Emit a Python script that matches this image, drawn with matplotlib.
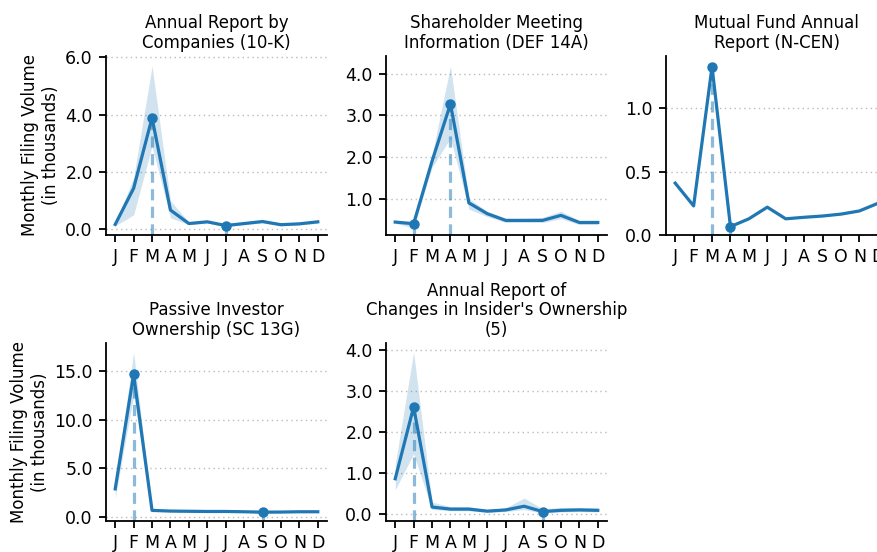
import numpy as np
import matplotlib
matplotlib.use("Agg")
import matplotlib.pyplot as plt
from matplotlib.ticker import FormatStrFormatter

# month labels
months = ["J", "F", "M", "A", "M", "J", "J", "A", "S", "O", "N", "D"]

titles = ["Annual Report by\nCompanies (10-K)",
          "Shareholder Meeting\nInformation (DEF 14A)",
          "Mutual Fund Annual\nReport (N-CEN)",
          "Passive Investor\nOwnership (SC 13G)",
          "Annual Report of\nChanges in Insider's Ownership\n(5)"]

# mean monthly volume (thousands) and band bounds
tenk_mean = [0.17, 1.43, 3.89, 0.67, 0.20, 0.26, 0.13, 0.20, 0.27, 0.16, 0.19, 0.26]
tenk_lo = [0.12, 0.50, 2.90, 0.40, 0.16, 0.22, 0.09, 0.16, 0.22, 0.12, 0.15, 0.21]
tenk_hi = [0.22, 1.80, 5.70, 1.00, 0.25, 0.30, 0.17, 0.25, 0.33, 0.20, 0.23, 0.31]

def14a_mean = [0.44, 0.40, 1.90, 3.27, 0.90, 0.64, 0.48, 0.48, 0.48, 0.60, 0.43, 0.43]
def14a_lo = [0.41, 0.30, 1.75, 2.45, 0.75, 0.57, 0.43, 0.43, 0.43, 0.52, 0.38, 0.38]
def14a_hi = [0.47, 0.45, 2.05, 4.18, 1.00, 0.70, 0.53, 0.53, 0.55, 0.70, 0.48, 0.48]

ncen_mean = [0.41, 0.23, 1.33, 0.066, 0.128, 0.22, 0.128, 0.14, 0.15, 0.165, 0.19, 0.25]

sc13g_mean = [2.90, 14.67, 0.69, 0.62, 0.60, 0.58, 0.58, 0.55, 0.51, 0.52, 0.55, 0.55]
sc13g_lo = [2.00, 12.50, 0.62, 0.56, 0.54, 0.52, 0.52, 0.49, 0.40, 0.46, 0.49, 0.49]
sc13g_hi = [3.30, 16.95, 0.76, 0.68, 0.66, 0.64, 0.64, 0.61, 0.60, 0.58, 0.61, 0.61]

form5_mean = [0.85, 2.60, 0.16, 0.11, 0.11, 0.06, 0.09, 0.18, 0.05, 0.08, 0.09, 0.08]
form5_lo = [0.58, 1.46, 0.10, 0.07, 0.07, 0.03, 0.05, 0.10, 0.01, 0.04, 0.05, 0.04]
form5_hi = [1.20, 3.94, 0.28, 0.17, 0.17, 0.10, 0.14, 0.38, 0.12, 0.15, 0.15, 0.14]

series = [(tenk_mean, tenk_lo, tenk_hi),
          (def14a_mean, def14a_lo, def14a_hi),
          (ncen_mean, None, None),
          (sc13g_mean, sc13g_lo, sc13g_hi),
          (form5_mean, form5_lo, form5_hi)]

ylims = [(-0.2, 6.05), (0.13, 4.42), (0.0, 1.415), (-0.4, 17.9), (-0.18, 4.16)]

W, H = 877, 552
fig = plt.figure(figsize=(W / 100, H / 100), dpi=100)

col_left = [106, 386, 666]
row_top = [56, 343]
row_bot = [235, 521]
ax_w = 221

color = "#1f77b4"

for i, (mean, lo, hi) in enumerate(series):
    r, c = divmod(i, 3)
    ax = fig.add_axes([col_left[c] / W, 1 - row_bot[r] / H,
                       ax_w / W, (row_bot[r] - row_top[r]) / H])
    x = np.arange(12)
    y = np.array(mean)
    ax.plot(x, y, color=color, lw=2.3, zorder=3)
    if lo is not None:
        ax.fill_between(x, lo, hi, color=color, alpha=0.2, lw=0, zorder=2)
    ax.set_xlim(-0.5, 11.5)
    ymin, ymax = ylims[i]
    # dashed drop lines under the peak and the low point
    imax, imin = int(np.argmax(y)), int(np.argmin(y))
    for k in (imax, imin):
        ax.vlines(x[k], ymin, y[k], color=color, alpha=0.5, lw=2.3,
                  linestyles=(0, (3.5, 2)), zorder=2.5)
    ax.plot(x[[imax, imin]], y[[imax, imin]], "o", color=color, ms=6.5, zorder=4)
    ax.set_ylim(ymin, ymax)

    ax.set_xticks(x)
    ax.set_xticklabels(months)
    ax.yaxis.set_major_formatter(FormatStrFormatter("%.1f"))
    ax.yaxis.grid(True, ls=(0, (1, 2.5)), color="#bbbbbb", lw=1)
    ax.set_axisbelow(True)
    for s in ("top", "right"):
        ax.spines[s].set_visible(False)
    for s in ("left", "bottom"):
        ax.spines[s].set_linewidth(1.3)
    ax.tick_params(labelsize=12.5, length=5, width=1.3, pad=4.5)
    ax.set_title(titles[i], fontsize=12, pad=6, linespacing=1.1)
    if c == 0:
        ax.set_ylabel("Monthly Filing Volume\n(in thousands)", fontsize=12)

fig.savefig("out.png", dpi=100)
